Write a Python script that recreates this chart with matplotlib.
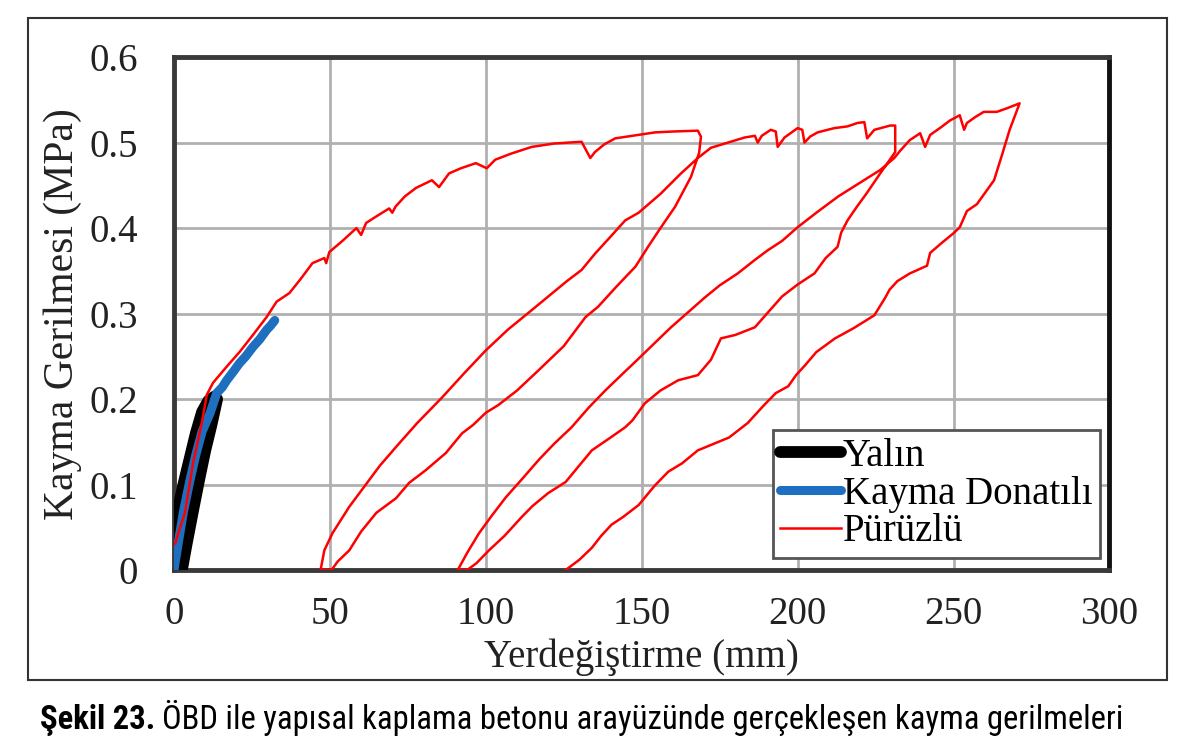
import matplotlib.pyplot as plt
from matplotlib.patches import Rectangle

# Yalın (plain interface)
yalin_x = [0.0, 0.3, 1.5, 3.0, 5.0, 7.0, 9.0, 11.0, 13.0, 13.8, 12.0, 10.0, 8.0, 6.0, 4.0, 2.5]
yalin_y = [0.0, 0.050, 0.075, 0.100, 0.130, 0.160, 0.185, 0.198, 0.203, 0.200, 0.170, 0.140, 0.105, 0.068, 0.030, 0.0]

# Kayma Donatılı (shear reinforced)
donatili_x = [0.0, 0.3, 1.5, 3.0, 5.1, 7.0, 9.0, 11.5, 13.7, 15.5, 16.9, 19.0, 21.0, 23.0, 25.3, 27.5, 29.7, 31.0, 32.3]
donatili_y = [0.0, 0.008, 0.035, 0.068, 0.105, 0.135, 0.162, 0.183, 0.207, 0.214, 0.222, 0.232, 0.242, 0.250, 0.261, 0.270, 0.281, 0.286, 0.292]

# Pürüzlü (rough interface), cyclic loading path
puruzlu_x = [
    0.0, 0.5, 1.5, 3.5, 6.1, 8.9, 10.5, 12.5, 16.9, 21.0, 25.3, 29.7, 32.9, 37.0, 40.5, 44.4,
    48.2, 48.8, 49.8, 54.0, 58.5, 60.0, 61.6, 65.0, 69.0, 70.0, 71.0, 74.0, 77.6, 82.7, 85.0,
    88.2, 92.0, 96.8, 100.3, 103.0, 108.0, 114.7, 122.0, 130.7, 133.5, 135.0, 138.0, 141.5,
    147.0, 154.3, 160.0, 168.0, 169.0, 168.4,
    # unloading 1
    165.8, 160.7, 156.0, 152.0, 148.0, 142.0, 136.0, 132.0, 125.0, 117.0, 110.0, 104.0, 100.0,
    96.0, 92.4, 87.2, 80.8, 75.4, 71.2, 64.9, 60.0, 56.2, 52.5, 50.5, 47.0,
    # reloading 1
    48.2, 50.8, 56.2, 61.7, 66.0, 71.2, 78.0, 86.0, 93.0, 100.0, 107.0, 114.7, 120.0, 126.0,
    130.7, 135.0, 140.0, 144.7, 149.0, 156.0, 162.6, 168.0, 172.2,
    # envelope 2
    177.6, 183.0, 186.3, 187.2, 188.5, 191.4, 193.0, 193.6, 195.8, 200.0, 201.5, 202.2, 204.0,
    206.4, 211.8, 216.0, 219.2, 221.4, 222.3, 224.6, 229.7, 231.3, 231.3,
    # unloading 2
    226.5, 222.0, 219.0, 216.0, 214.0, 212.8, 209.0, 205.4, 200.0, 195.0, 186.3, 180.0, 175.4,
    172.2, 168.0, 161.7, 156.0, 151.0, 147.0, 144.7, 140.0, 134.0, 129.0, 125.6, 120.0, 115.0,
    111.5, 106.0, 101.0, 97.0, 94.0, 91.0,
    # reloading 2
    94.0, 97.8, 102.0, 106.4, 112.0, 117.0, 122.0, 127.5, 133.0, 138.3, 144.0, 148.9, 154.0,
    159.4, 165.0, 170.3, 175.0, 180.8, 186.0, 190.4, 195.0, 200.0, 206.0, 213.0, 220.0, 226.5,
    231.0, 233.0,
    # envelope 3
    236.0, 239.3, 240.9, 242.5, 246.0, 248.9, 252.0, 253.4, 254.3, 257.0, 259.7, 263.9, 267.0,
    271.2,
    # unloading 3
    268.0, 265.5, 263.0, 257.5, 254.3, 252.0, 250.0, 246.0, 242.5, 241.5, 236.0, 232.0, 229.5,
    228.0, 224.6, 218.0, 212.0, 206.0, 202.5, 199.5, 197.0, 193.0, 189.0, 184.0, 178.0, 172.0,
    168.0, 163.0, 158.5, 154.0, 149.0, 144.0, 140.3, 137.0, 134.0, 130.0, 125.6,
]
puruzlu_y = [
    0.030, 0.032, 0.045, 0.067, 0.125, 0.172, 0.205, 0.219, 0.238, 0.255, 0.275, 0.296, 0.314,
    0.324, 0.340, 0.359, 0.365, 0.359, 0.372, 0.385, 0.400, 0.392, 0.406, 0.414, 0.423, 0.418,
    0.425, 0.437, 0.447, 0.456, 0.448, 0.464, 0.470, 0.476, 0.470, 0.480, 0.487, 0.495, 0.499,
    0.501, 0.482, 0.489, 0.498, 0.505, 0.508, 0.512, 0.513, 0.514, 0.507, 0.488,
    # unloading 1
    0.460, 0.425, 0.400, 0.378, 0.355, 0.332, 0.308, 0.296, 0.262, 0.234, 0.210, 0.193, 0.184,
    0.170, 0.160, 0.137, 0.117, 0.102, 0.084, 0.067, 0.045, 0.023, 0.010, 0.0, 0.0,
    # reloading 1
    0.023, 0.043, 0.074, 0.101, 0.122, 0.144, 0.172, 0.202, 0.230, 0.257, 0.281, 0.304, 0.320,
    0.338, 0.351, 0.370, 0.390, 0.409, 0.418, 0.440, 0.464, 0.482, 0.494,
    # envelope 2
    0.500, 0.506, 0.508, 0.500, 0.508, 0.515, 0.513, 0.495, 0.506, 0.517, 0.515, 0.500, 0.507,
    0.512, 0.517, 0.519, 0.523, 0.524, 0.505, 0.515, 0.520, 0.520, 0.489,
    # unloading 2
    0.464, 0.440, 0.425, 0.409, 0.395, 0.378, 0.365, 0.347, 0.334, 0.320, 0.284, 0.275, 0.271,
    0.246, 0.228, 0.222, 0.210, 0.195, 0.175, 0.167, 0.155, 0.140, 0.118, 0.103, 0.090, 0.075,
    0.062, 0.040, 0.023, 0.008, 0.0, 0.0,
    # reloading 2
    0.020, 0.043, 0.064, 0.085, 0.108, 0.129, 0.148, 0.167, 0.190, 0.210, 0.230, 0.247, 0.265,
    0.284, 0.302, 0.319, 0.333, 0.347, 0.362, 0.374, 0.385, 0.401, 0.418, 0.437, 0.453, 0.468,
    0.482, 0.491,
    # envelope 3
    0.503, 0.511, 0.495, 0.509, 0.518, 0.526, 0.532, 0.515, 0.523, 0.530, 0.536, 0.536, 0.540,
    0.546,
    # unloading 3
    0.515, 0.485, 0.456, 0.428, 0.420, 0.401, 0.394, 0.382, 0.371, 0.356, 0.347, 0.338, 0.328,
    0.318, 0.298, 0.283, 0.271, 0.255, 0.240, 0.228, 0.215, 0.207, 0.192, 0.172, 0.155, 0.146,
    0.140, 0.125, 0.115, 0.098, 0.076, 0.062, 0.053, 0.040, 0.026, 0.012, 0.0,
]

x_ticks = [0, 50, 100, 150, 200, 250, 300]
y_ticks = [0, 0.1, 0.2, 0.3, 0.4, 0.5, 0.6]
y_tick_labels = ['0', '0.1', '0.2', '0.3', '0.4', '0.5', '0.6']

plt.rcParams['font.family'] = ['Liberation Serif', 'DejaVu Serif']
caption_font = ['Roboto Condensed', 'Liberation Sans Narrow', 'Liberation Sans', 'DejaVu Sans']

fig = plt.figure(figsize=(11.84, 7.52), dpi=100)
ax = fig.add_axes([0.147, 0.242, 0.790, 0.682])

ax.plot(yalin_x, yalin_y, color='black', lw=8.5, solid_capstyle='round',
        solid_joinstyle='round', label='Yalın', zorder=3)
ax.plot(donatili_x, donatili_y, color='#1f6fc0', lw=6.5, solid_capstyle='round',
        solid_joinstyle='round', label='Kayma Donatılı', zorder=4)
ax.plot(puruzlu_x, puruzlu_y, color='#ff0000', lw=1.8, label='Pürüzlü', zorder=5)

ax.set_xlim(0, 300)
ax.set_ylim(0, 0.6)
ax.set_xticks(x_ticks)
ax.set_yticks(y_ticks)
ax.set_yticklabels(y_tick_labels)
ax.tick_params(length=0, labelsize=28, colors='#222222')
ax.tick_params(axis='x', pad=19)
ax.tick_params(axis='y', pad=26)
ax.grid(True, color='#b0b0b0', lw=2)
ax.set_axisbelow(True)
for side in ['left', 'bottom', 'top', 'right']:
    ax.spines[side].set_linewidth(3.5)
    ax.spines[side].set_color('#3a3a3a')
ax.spines['right'].set_color('#111111')

ax.set_xlabel('Yerdeğiştirme (mm)', fontsize=28, labelpad=4, color='#222222')
ax.set_ylabel('Kayma Gerilmesi (MPa)', fontsize=30, labelpad=5, color='#222222')

leg = ax.legend(loc='lower left', bbox_to_anchor=(0.64, 0.023), fontsize=28,
                handlelength=1.55, handletextpad=0.05, labelspacing=0.02,
                borderpad=0.2, borderaxespad=0, fancybox=False, framealpha=1)
leg.get_frame().set_edgecolor('#555555')
leg.get_frame().set_linewidth(2)

# outer border around the chart
fig.patches.append(Rectangle((0.0236, 0.0957), 0.962, 0.881, transform=fig.transFigure,
                             fill=False, edgecolor='#333333', lw=1.5))

# caption: bold figure number followed by the regular text
cap1 = fig.text(0.034, 0.030, 'Şekil 23.', fontsize=23.5, fontweight='bold',
                family=caption_font, va='baseline')
fig.add_artist(plt.Annotation('ÖBD ile yapısal kaplama betonu arayüzünde gerçekleşen kayma gerilmeleri',
                              xy=(1, 0), xycoords=cap1, xytext=(5, 0), textcoords='offset points',
                              fontsize=23.5, family=caption_font, va='bottom'))

fig.savefig('out.png', dpi=100)
